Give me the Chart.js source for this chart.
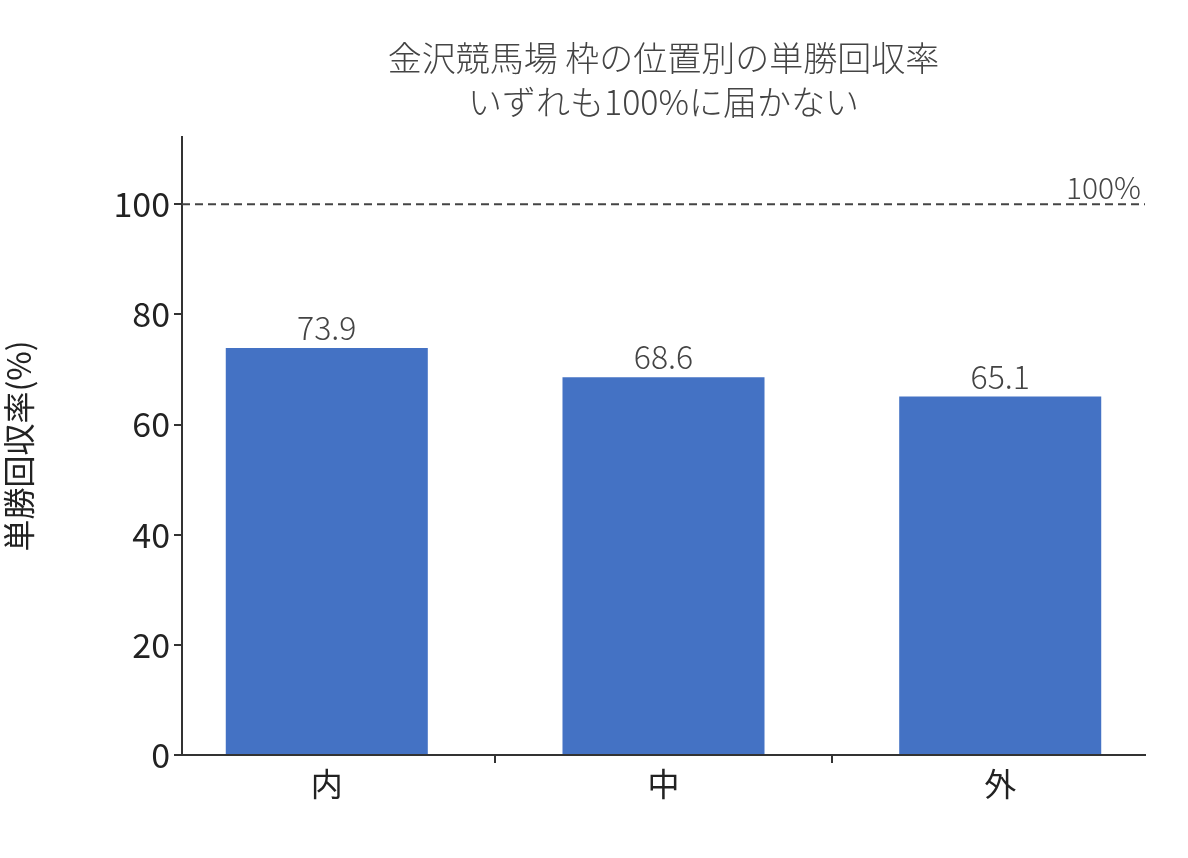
<!DOCTYPE html>
<html><head><meta charset="utf-8">
<script src="https://cdn.jsdelivr.net/npm/chart.js@4"></script>
<style>html,body{margin:0;padding:0;background:#fff}#w{width:1188px;height:858px}</style>
</head><body><div id="w"><canvas id="c"></canvas></div>
<script>
const categories = ["内", "中", "外"];
const values = [73.9, 68.6, 65.1];
const yTicks = [0, 20, 40, 60, 80, 100];
const refValue = 100;
const titleLines = ["金沢競馬場 枠の位置別の単勝回収率", "いずれも100%に届かない"];
const FONT = "'Noto Sans CJK JP','Noto Sans',sans-serif";

const deco = {
  id: 'deco',
  afterDatasetsDraw(chart) {
    const {ctx, scales: {x, y}, chartArea: a} = chart;
    ctx.save();
    const py = y.getPixelForValue(refValue);
    ctx.strokeStyle = '#444'; ctx.lineWidth = 2; ctx.setLineDash([8, 5]);
    ctx.beginPath(); ctx.moveTo(a.left, py); ctx.lineTo(a.right, py); ctx.stroke();
    ctx.setLineDash([]);
    ctx.fillStyle = '#444'; ctx.font = `300 30px ${FONT}`;
    ctx.textAlign = 'right'; ctx.textBaseline = 'bottom';
    ctx.fillText(refValue + '%', a.right - 4, py - 2);
    ctx.textAlign = 'center'; ctx.font = `300 32px ${FONT}`;
    values.forEach((v, i) => {
      ctx.fillText(v.toFixed(1), x.getPixelForValue(i), y.getPixelForValue(v) - 4);
    });
    ctx.font = `300 34px ${FONT}`; ctx.textBaseline = 'middle';
    ctx.fillText(titleLines[0], (a.left + a.right) / 2, 58);
    ctx.fillText(titleLines[1], (a.left + a.right) / 2, 102);
    ctx.restore();
  }
};

new Chart(document.getElementById('c'), {
  type: 'bar',
  data: { datasets: [{ data: values.map((v, i) => ({x: i, y: v})), backgroundColor: '#4472C4', categoryPercentage: 1, barPercentage: 0.6 }] },
  options: {
    responsive: true, maintainAspectRatio: false, animation: false,
    layout: { padding: { top: 137, right: 43, left: 0, bottom: 0 } },
    plugins: { legend: { display: false }, tooltip: { enabled: false } },
    scales: {
      x: {
        type: 'linear', min: -0.43, max: 2.43, offset: false,
        afterBuildTicks: s => { s.ticks = categories.map((c, i) => ({value: i})); },
        afterFit: s => { s.height = 103; },
        grid: { display: true, drawOnChartArea: false, drawTicks: true, tickLength: 8, color: '#333', lineWidth: 2 },
        border: { color: '#333', width: 2 },
        ticks: { color: '#222', font: { family: FONT, size: 32 }, callback: (v) => categories[v] ?? '', padding: 2 }
      },
      y: {
        min: 0, max: 112.2,
        afterBuildTicks: s => { s.ticks = yTicks.map(v => ({value: v})); },
        afterFit: s => { s.width = 182; },
        grid: { display: true, drawOnChartArea: false, drawTicks: true, tickLength: 8, color: '#333', lineWidth: 2 },
        border: { color: '#333', width: 2 },
        title: { display: true, text: '単勝回収率(%)', color: '#222', font: { family: FONT, size: 32 }, padding: { top: 0, bottom: 0 } },
        ticks: { color: '#222', font: { family: FONT, size: 34 }, padding: 4 }
      }
    }
  },
  plugins: [deco, {
    id: 'ytitleShift',
    beforeDraw(chart) { const s = chart.scales.y; s._titleShift = true; }
  }]
});
</script></body></html>
